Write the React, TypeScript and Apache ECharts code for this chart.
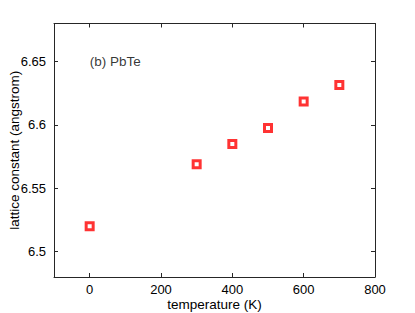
import React, { useEffect, useRef } from "react";
import * as echarts from "echarts";

const temperatures = [0, 300, 400, 500, 600, 700];
const latticeConstants = [6.52, 6.569, 6.585, 6.5975, 6.6185, 6.6315];
const xTicks = [0, 200, 400, 600, 800];
const yTicks = [6.5, 6.55, 6.6, 6.65];
const panelLabel = "(b) PbTe";

export default function App() {
  const ref = useRef<HTMLDivElement>(null);
  useEffect(() => {
    document.body.style.margin = "0";
    const chart = echarts.init(ref.current!, null, { renderer: "svg" });
    const font = "Liberation Sans, Arial, sans-serif";
    const axisLine = { show: true, onZero: false, lineStyle: { color: "#262626", width: 1 } };
    const tick = (vals: number[]) => ({
      show: true,
      inside: true,
      length: 4,
      customValues: vals,
      lineStyle: { color: "#262626", width: 1 },
    });
    chart.setOption({
      animation: false,
      backgroundColor: "#fff",
      grid: {
        left: 54,
        top: 23.5,
        right: 40,
        bottom: 36,
        containLabel: false,
        outerBoundsMode: "none",
      },
      xAxis: [
        {
          type: "value",
          min: -100,
          max: 800,
          position: "bottom",
          axisLine,
          axisTick: tick(xTicks),
          axisLabel: {
            customValues: xTicks,
            color: "#000",
            fontSize: 13,
            fontFamily: font,
            margin: 6,
          },
          splitLine: { show: false },
          name: "temperature (K)",
          nameLocation: "middle",
          nameGap: 20,
          nameMoveOverlap: false,
          nameTextStyle: { color: "#000", fontSize: 13.5, fontFamily: font },
        },
        {
          type: "value",
          min: -100,
          max: 800,
          position: "top",
          axisLine,
          axisTick: tick(xTicks),
          axisLabel: { show: false },
          splitLine: { show: false },
        },
      ],
      yAxis: [
        {
          type: "value",
          min: 6.48,
          max: 6.68,
          position: "left",
          axisLine,
          axisTick: tick(yTicks),
          axisLabel: {
            customValues: yTicks,
            color: "#000",
            fontSize: 13,
            fontFamily: font,
            margin: 8,
            formatter: (v: number) => String(+v.toFixed(2)),
          },
          splitLine: { show: false },
          name: "lattice constant (angstrom)",
          nameLocation: "middle",
          nameGap: 33,
          nameMoveOverlap: false,
          nameTextStyle: { color: "#000", fontSize: 13.5, fontFamily: font },
        },
        {
          type: "value",
          min: 6.48,
          max: 6.68,
          position: "right",
          axisLine,
          axisTick: tick(yTicks),
          axisLabel: { show: false },
          splitLine: { show: false },
        },
      ],
      series: [
        {
          type: "scatter",
          data: temperatures.map((t, i) => [t, latticeConstants[i]]),
          symbol: "rect",
          symbolSize: 7,
          itemStyle: { color: "#fff", borderColor: "#ff0000", borderWidth: 3 },
        },
        {
          type: "scatter",
          data: [[0, 6.65]],
          symbolSize: 0,
          silent: true,
          label: {
            show: true,
            position: "right",
            distance: 0,
            formatter: panelLabel,
            color: "#000",
            fontSize: 13.5,
            fontFamily: font,
          },
        },
      ],
    });
    return () => chart.dispose();
  }, []);
  return <div ref={ref} style={{ width: 415, height: 313 }} />;
}
